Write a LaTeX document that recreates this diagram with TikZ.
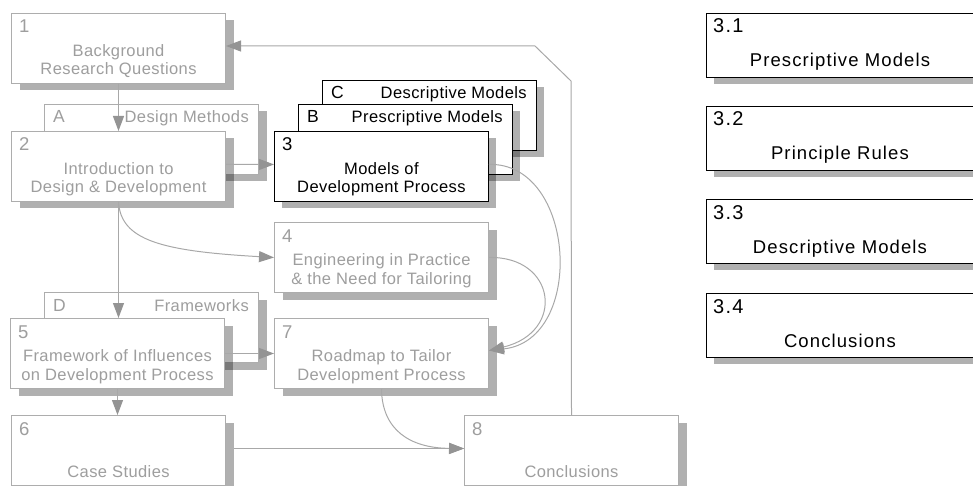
\documentclass[tikz,border=0pt]{standalone}
\usepackage{fontspec}
\setmainfont{Liberation Sans}
\newfontfamily\widefont[LetterSpace=2.5]{Liberation Sans}
\newfontfamily\sidefont[LetterSpace=6]{Liberation Sans}
\usetikzlibrary{arrows.meta,shadows,calc}

\definecolor{boxline}{gray}{0.68}
\definecolor{boxtext}{gray}{0.62}
\definecolor{linkline}{gray}{0.66}
\definecolor{tipfill}{gray}{0.58}

\tikzset{
  pane/.style={rectangle, minimum width=214pt, minimum height=70pt, inner sep=0pt,
    fill=white, line width=1pt, anchor=north west,
    drop shadow={shadow xshift=8pt, shadow yshift=-7pt, fill=black, opacity=0.31}},
  palepane/.style={pane, draw=boxline},
  darkpane/.style={pane, draw=black, line width=0.9pt},
  sidepane/.style={darkpane, minimum width=267pt, minimum height=64pt},
  numtxt/.style={inner sep=0pt, anchor=base west, font=\widefont\fontsize{18.5}{20}\selectfont},
  bodytxt/.style={inner sep=0pt, anchor=base, font=\widefont\fontsize{16.5}{20}\selectfont},
  tagtxt/.style={inner sep=0pt, anchor=base west, font=\widefont\fontsize{17.5}{20}\selectfont},
  headtxt/.style={inner sep=0pt, anchor=base east, font=\widefont\fontsize{16.5}{20}\selectfont},
  sidenum/.style={inner sep=0pt, anchor=base west, font=\sidefont\fontsize{20}{22}\selectfont},
  sidetxt/.style={inner sep=0pt, anchor=base, font=\sidefont\fontsize{18.5}{22}\selectfont},
  link/.style={draw=linkline, line width=1pt},
  flow/.style={link, -{Triangle[length=15pt,width=11pt,fill=tipfill,color=tipfill]}},
}

% chapter box: name, style, x, y, number, text colour
\newcommand\chapbox[6]{%
  \node[#2] (#1) at (#3,#4) {};
  \node[numtxt, text=#6] (#1-n) at ($(#1.north west)+(8,20)$) {#5};
}
% appendix box: name, style, x, y, letter, heading, text colour
\newcommand\tagbox[7]{%
  \node[#2] (#1) at (#3,#4) {};
  \node[tagtxt, text=#7] (#1-n) at ($(#1.north west)+(9,19)$) {#5};
  \node[headtxt, text=#7] (#1-h) at ($(#1.north east)+(-10,19)$) {#6};
}
% section box on the right
\newcommand\sidebox[4]{%
  \node[sidepane] (#1) at (706,#2) {};
  \node[sidenum] (#1-n) at ($(#1.north west)+(7,20)$) {#3};
  \node[sidetxt] (#1-t) at ($(#1.north)+(0,54)$) {#4};
}

\begin{document}
\begin{tikzpicture}[x=1pt, y=-1pt]
\useasboundingbox (0,0) rectangle (973,486);

% chapter 3 and its appendices
\tagbox{bc}{darkpane}{322}{80}{C}{Descriptive Models}{black}
\tagbox{bb}{darkpane}{298}{104}{B}{Prescriptive Models}{black}
\chapbox{b3}{darkpane}{274}{131}{3}{black}
\node[bodytxt] (b3-a) at ($(b3.north)+(0,43.5)$) {Models of};
\node[bodytxt] (b3-b) at ($(b3.north)+(0,62)$) {Development Process};

% chapters 1 and 2
\chapbox{b1}{palepane}{11}{13}{1}{boxtext}
\node[bodytxt, text=boxtext] (b1-a) at ($(b1.north)+(0,43.5)$) {Background};
\node[bodytxt, text=boxtext] (b1-b) at ($(b1.north)+(0,62)$) {Research Questions};

\tagbox{ba}{palepane}{44}{104}{A}{Design Methods}{boxtext}
\chapbox{b2}{palepane}{11}{131}{2}{boxtext}
\node[bodytxt, text=boxtext] (b2-a) at ($(b2.north)+(0,43.5)$) {Introduction to};
\node[bodytxt, text=boxtext] (b2-b) at ($(b2.north)+(0,62)$) {Design \& Development};

% chapter 4
\chapbox{b4}{palepane}{274}{222}{4}{boxtext}
\node[bodytxt, text=boxtext] (b4-a) at ($(b4.north)+(0,43.5)$) {Engineering in Practice};
\node[bodytxt, text=boxtext] (b4-b) at ($(b4.north)+(0,62)$) {\& the Need for Tailoring};

% chapter 5 with appendix D
\tagbox{bd}{palepane}{44}{292}{D}{Frameworks}{boxtext}
\chapbox{b5}{palepane}{10}{318}{5}{boxtext}
\node[bodytxt, text=boxtext] (b5-a) at ($(b5.north)+(0,43.5)$) {Framework of Influences};
\node[bodytxt, text=boxtext] (b5-b) at ($(b5.north)+(0,62)$) {on Development Process};

% chapter 7
\chapbox{b7}{palepane}{274}{318}{7}{boxtext}
\node[bodytxt, text=boxtext] (b7-a) at ($(b7.north)+(0,43.5)$) {Roadmap to Tailor};
\node[bodytxt, text=boxtext] (b7-b) at ($(b7.north)+(0,62)$) {Development Process};

% chapters 6 and 8
\chapbox{b6}{palepane}{11}{415}{6}{boxtext}
\node[bodytxt, text=boxtext] (b6-b) at ($(b6.north)+(0,62)$) {Case Studies};
\chapbox{b8}{palepane}{464}{415}{8}{boxtext}
\node[bodytxt, text=boxtext] (b8-b) at ($(b8.north)+(0,62)$) {Conclusions};

% sections of chapter 3
\sidebox{s1}{13}{3.1}{Prescriptive Models}
\sidebox{s2}{106}{3.2}{Principle Rules}
\sidebox{s3}{199}{3.3}{Descriptive Models}
\sidebox{s4}{293}{3.4}{Conclusions}

% reading order
\draw[flow] (b1.south) -- (b1.south |- b2.north);
\draw[flow] ([yshift=2pt]b2.east) -- ([yshift=2pt]b3.west);
\draw[flow] (b2.south) .. controls (121,240) and (160,251) .. (b4.west);
\draw[flow] (b2.south) -- (b2.south |- b5.north);
\draw[flow] ([yshift=2pt]b3.east) .. controls (576,162) and (586,340) .. ([yshift=3pt]b7.east);
\draw[flow] (b4.east) .. controls (556,256) and (566,332) .. ([yshift=3pt]b7.east);
\draw[flow] (b5.east) -- (b7.west);
\draw[flow] (b5.south) -- (b5.south |- b6.north);
\draw[flow] ([xshift=8pt,yshift=2pt]b6.east) -- ([yshift=2pt]b8.west);
\draw[flow] (b7.south) .. controls (382,430) and (410,448) .. ([yshift=2pt]b8.west);

% loop back from the conclusions to the research questions
\coordinate (r1) at (571,81);
\coordinate (r2) at (535,46);
\draw[flow] (b8.north) -- (r1) -- (r2) -- (r2 -| b1.east);
\end{tikzpicture}
\end{document}
